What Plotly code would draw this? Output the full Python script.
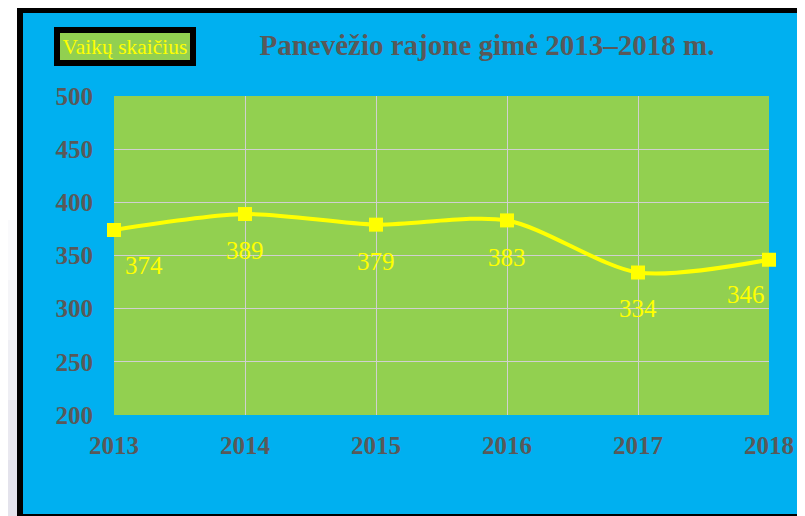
import plotly.graph_objects as go

years = [2013, 2014, 2015, 2016, 2017, 2018]
births = [374, 389, 379, 383, 334, 346]
y_ticks = [200, 250, 300, 350, 400, 450, 500]
title_text = "Panevėžio rajone gimė 2013–2018 m."
series_name = "Vaikų skaičius"

# page body has an 8px margin; figure sized to fill the rest of the window
OFF = 8
W, H = 805 - OFF, 516 - OFF
L, R, T, B = 114 - OFF, 36, 96 - OFF, 101
PW, PH = W - L - R, H - T - B

def xp(px):  # page px -> paper x
    return (px - OFF - L) / PW

def yp(py):  # page px -> paper y
    return (H - B - (py - OFF)) / PH

BLUE = "#00B0F0"
GREEN = "#92D050"
GRAY = "#595959"
YELLOW = "#FFFF00"
SERIF = "Liberation Serif, Times New Roman, serif"

fig = go.Figure()
fig.add_trace(go.Scatter(
    x=years, y=births, mode="lines+markers", name=series_name,
    line=dict(color=YELLOW, width=4, shape="spline", smoothing=0.8),
    marker=dict(symbol="square", size=14, color=YELLOW),
    cliponaxis=False, showlegend=False,
))

# data labels
label_dx = [30, 0, 0, 0, 0, -23]
label_dy = [-36, -36, -37, -37, -36, -35]
for i, (xv, yv) in enumerate(zip(years, births)):
    fig.add_annotation(
        x=xv, y=yv, xref="x", yref="y", text=str(yv), showarrow=False,
        xshift=label_dx[i], yshift=label_dy[i],
        font=dict(family=SERIF, size=25, color=YELLOW),
    )

# legend-like box
fig.add_annotation(
    x=xp(124.5), y=yp(46.5), xref="paper", yref="paper",
    text=series_name, showarrow=False,
    xanchor="center", yanchor="middle",
    font=dict(family=SERIF, size=21.5, color=YELLOW),
    bgcolor=GREEN, bordercolor="black", borderwidth=6, borderpad=0,
    width=130, height=27,
)

shapes = []
# left page strip (light gradient)
band_colors = ["#FFFFFF", "#FAFAFC", "#F5F5F8", "#EFEFF4", "#EAE9F0", "#E4E3EC"]
edges = [0, 220, 280, 340, 400, 460, 516]
for c, y0, y1 in zip(band_colors, edges[:-1], edges[1:]):
    shapes.append(dict(type="rect", xref="paper", yref="paper",
                       x0=xp(0), x1=xp(17), y0=yp(y1), y1=yp(y0),
                       fillcolor=c, line=dict(width=0), layer="above"))
# black frame
shapes.append(dict(type="rect", xref="paper", yref="paper",
                   x0=xp(20), x1=xp(840), y0=yp(517), y1=yp(10),
                   fillcolor="rgba(0,0,0,0)", line=dict(color="black", width=6),
                   layer="above"))
fig.update_layout(shapes=shapes)

fig.update_layout(
    width=W, height=H,
    margin=dict(l=L, r=R, t=T, b=B, autoexpand=False),
    paper_bgcolor=BLUE, plot_bgcolor=GREEN,
    title=dict(text=title_text, x=(487 - OFF) / W, xref="container", xanchor="center",
               y=1 - (45 - OFF) / H, yref="container", yanchor="middle",
               font=dict(family=SERIF, size=29, color=GRAY, weight="bold")),
    xaxis=dict(range=[2013, 2018], tickvals=years, ticktext=[str(v) for v in years],
               showgrid=True, gridcolor="#D0D0D0", gridwidth=1, zeroline=False,
               showline=False, ticks="", ticklabelstandoff=13,
               tickfont=dict(family=SERIF, size=25, color=GRAY, weight="bold")),
    yaxis=dict(range=[200, 500], tickvals=y_ticks, ticktext=[str(v) for v in y_ticks],
               showgrid=True, gridcolor="#D0D0D0", gridwidth=1, zeroline=False,
               showline=False, ticks="", ticklabelstandoff=20,
               tickfont=dict(family=SERIF, size=25, color=GRAY, weight="bold")),
)

fig.write_html("out.html")
